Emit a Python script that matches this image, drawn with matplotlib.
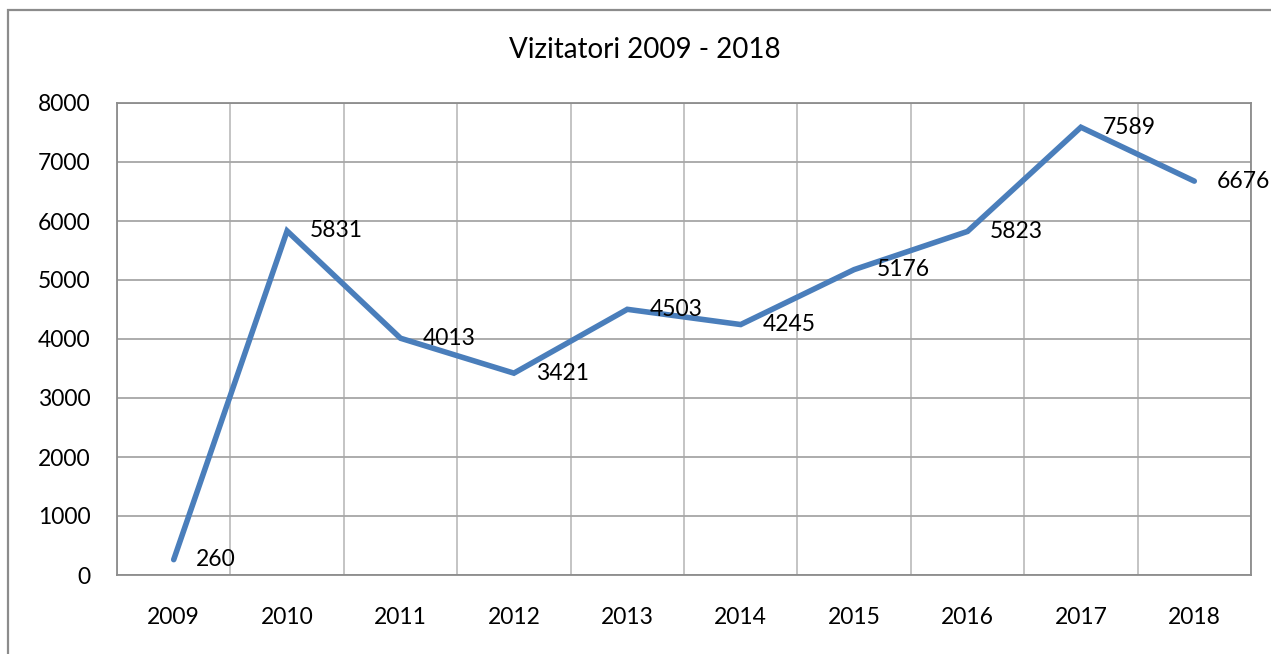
import matplotlib.pyplot as plt
from matplotlib.patches import Rectangle
from matplotlib.ticker import MultipleLocator

years = ['2009', '2010', '2011', '2012', '2013', '2014', '2015', '2016', '2017', '2018']
visitors = [260, 5831, 4013, 3421, 4503, 4245, 5176, 5823, 7589, 6676]

W, H = 1271, 654
plt.rcParams['font.family'] = ['Lato', 'DejaVu Sans']

fig = plt.figure(figsize=(W / 100, H / 100), dpi=100)

# outer chart frame (runs off the right/bottom edge like the source)
fig.patches.append(Rectangle((8 / W, -0.05), 1.2, 1 - 10 / H + 0.05,
                             transform=fig.transFigure, fill=False,
                             edgecolor='#8c8c8c', linewidth=1.6))

ax = fig.add_axes([117 / W, 1 - 575 / H, (1251 - 117) / W, (575 - 103) / H])

x = list(range(len(years)))
ax.plot(x, visitors, color='#4a7ebb', linewidth=4.0, solid_capstyle='round',
        solid_joinstyle='miter', zorder=3)

for xi, v in zip(x, visitors):
    ax.annotate(str(v), (xi, v), xytext=(16, 0), textcoords='offset points',
                ha='left', va='center', fontsize=16.5, color='black', zorder=4)

ax.set_xlim(-0.5, len(years) - 0.5)
ax.set_ylim(0, 8000)
ax.yaxis.set_major_locator(MultipleLocator(1000))
ax.set_xticks(x)
ax.set_xticklabels(years)
ax.xaxis.set_minor_locator(MultipleLocator(0.5))
ax.tick_params(axis='both', which='both', length=0, labelsize=16.5)
ax.tick_params(axis='y', pad=19)
ax.tick_params(axis='x', pad=23)

ax.grid(True, axis='y', which='major', color='#a6a6a6', linewidth=1.3)
ax.grid(True, axis='x', which='minor', color='#bfbfbf', linewidth=1.3)
for s in ax.spines.values():
    s.set_color('#8c8c8c')
    s.set_linewidth(1.3)
ax.set_axisbelow(True)

fig.text(0.507, 1 - 50 / H, 'Vizitatori 2009 - 2018', ha='center', va='center', fontsize=20)

fig.savefig('out.png', dpi=100)
